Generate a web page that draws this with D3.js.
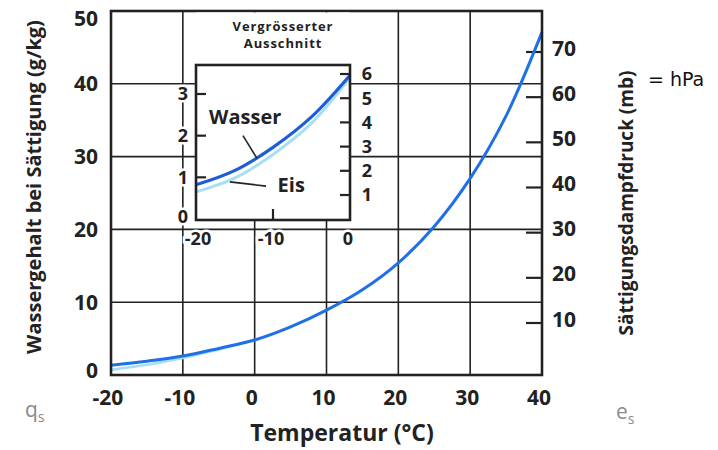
<!DOCTYPE html>
<html>
<head>
<meta charset="utf-8">
<script src="https://cdn.jsdelivr.net/npm/d3@7"></script>
<style>
  body { margin: 0; background: #fff; }
  svg text { font-family: "Open Sans", sans-serif; }
</style>
</head>
<body>
<svg id="chart" width="718" height="450"></svg>
<script>
// main curve: saturation water content (g/kg) vs temperature
const temps = [-20, -15, -10, -5, 0, 5, 10, 15, 20, 25, 30, 35, 40];
const qWasser = [1.35, 1.9, 2.6, 3.65, 4.8, 6.6, 8.9, 11.7, 15.4, 20.4, 27.0, 35.6, 47.1];
const tempsEis = [-20, -15, -10, -5, 0];
const qEisMain = [0.7, 1.4, 2.35, 3.5, 4.8];

// enlarged section
const insetTemps = [-20, -15, -10, -5, 0];
const insetWasser = [0.82, 1.16, 1.72, 2.45, 3.45];
const insetEis = [0.65, 0.98, 1.55, 2.3, 3.4];

const xTicks = [-20, -10, 0, 10, 20, 30, 40];
const qTicks = [0, 10, 20, 30, 40, 50];
const eTicks = [10, 20, 30, 40, 50, 60, 70];
const insetXTicks = [-20, -10, 0];
const insetQTicks = [0, 1, 2, 3];
const insetETicks = [1, 2, 3, 4, 5, 6];

const svg = d3.select("#chart");
const ink = "#222";

const x = d3.scaleLinear().domain([-20, 40]).range([111, 542]);
const yq = d3.scaleLinear().domain([0, 50]).range([375, 11]);
const ye = d3.scaleLinear().domain([10, 70]).range([323, 52]);

const xi = d3.scaleLinear().domain([-20, 0]).range([196, 350]);
const yqi = d3.scaleLinear().domain([0, 3]).range([219, 94]);
const yei = d3.scaleLinear().domain([1, 6]).range([195, 74]);

// grid
let grid = svg.append("g").attr("stroke", ink).attr("stroke-width", 1.6);
grid.selectAll(".vx").data(xTicks.slice(1, -1)).enter().append("line")
    .attr("x1", d => x(d)).attr("x2", d => x(d))
    .attr("y1", yq(50)).attr("y2", yq(0));
grid.selectAll(".hy").data(qTicks.slice(1, -1)).enter().append("line")
    .attr("x1", x(-20)).attr("x2", x(40))
    .attr("y1", d => yq(d)).attr("y2", d => yq(d));

// right axis ticks (inside)
svg.append("g").selectAll("line").data(eTicks).enter().append("line")
    .attr("x1", x(40) - 16).attr("x2", x(40))
    .attr("y1", d => ye(d)).attr("y2", d => ye(d))
    .attr("stroke", ink).attr("stroke-width", 2.2);

// main curves
let line = d3.line().x(d => x(d[0])).y(d => yq(d[1])).curve(d3.curveCatmullRom.alpha(0.5));
svg.append("path").datum(d3.zip(tempsEis, qEisMain)).attr("d", line)
    .attr("fill", "none").attr("stroke", "#a6def5").attr("stroke-width", 2.6);
svg.append("path").datum(d3.zip(temps, qWasser)).attr("d", line)
    .attr("fill", "none").attr("stroke", "#1f70e6").attr("stroke-width", 3);

// frame
svg.append("rect")
    .attr("x", x(-20)).attr("y", yq(50))
    .attr("width", x(40) - x(-20)).attr("height", yq(0) - yq(50))
    .attr("fill", "none").attr("stroke", ink).attr("stroke-width", 2.6);

// blank area for the inset
svg.append("rect")
    .attr("x", xi(-20)).attr("y", yq(50) + 1.5)
    .attr("width", xi(0) - xi(-20)).attr("height", yqi(0) + 1 - yq(50) - 1.5)
    .attr("fill", "#fff");

// left tick labels
svg.append("g").selectAll("text").data(qTicks).enter().append("text")
    .attr("x", 98)
    .attr("y", d => yq(d) + (d === 50 ? 7 : d === 0 ? -5 : 0))
    .attr("dy", "0.36em")
    .attr("text-anchor", "end")
    .attr("font-size", 21).attr("font-weight", 700).attr("fill", ink)
    .text(d => d);

// bottom tick labels
svg.append("g").selectAll("text").data(xTicks).enter().append("text")
    .attr("x", d => x(d) - 3)
    .attr("y", 397)
    .attr("dy", "0.36em")
    .attr("text-anchor", "middle")
    .attr("font-size", 21).attr("font-weight", 700).attr("fill", ink)
    .text(d => d);

// right tick labels
svg.append("g").selectAll("text").data(eTicks).enter().append("text")
    .attr("x", 552)
    .attr("y", d => ye(d) - 4)
    .attr("dy", "0.36em")
    .attr("font-size", 21).attr("font-weight", 700).attr("fill", ink)
    .text(d => d);

// axis titles
svg.append("text")
    .attr("transform", "translate(41,187) rotate(-90)")
    .attr("text-anchor", "middle")
    .attr("font-size", 20).attr("font-weight", 700).attr("fill", ink)
    .text("Wassergehalt bei Sättigung (g/kg)");
svg.append("text")
    .attr("transform", "translate(633,203) rotate(-90)")
    .attr("text-anchor", "middle")
    .attr("font-size", 19).attr("font-weight", 700).attr("fill", ink)
    .text("Sättigungsdampfdruck (mb)");
svg.append("text")
    .attr("x", 342).attr("y", 441)
    .attr("text-anchor", "middle")
    .attr("font-size", 23).attr("font-weight", 700).attr("fill", ink)
    .text("Temperatur (°C)");

svg.append("text")
    .attr("x", 648).attr("y", 86)
    .style("font-family", "DejaVu Sans")
    .attr("font-size", 19).attr("fill", "#111")
    .text("= hPa");

// q_s and e_s
let sym = svg.append("g").attr("fill", "#8a8a8a").style("font-family", "DejaVu Sans");
let qs = sym.append("text").attr("x", 25).attr("y", 417).attr("font-size", 21);
qs.append("tspan").text("q");
qs.append("tspan").attr("font-size", 14).attr("dy", 5).text("s");
let es = sym.append("text").attr("x", 616).attr("y", 419).attr("font-size", 21);
es.append("tspan").text("e");
es.append("tspan").attr("font-size", 14).attr("dy", 5).text("s");

// ---- inset ----
let inset = svg.append("g");

inset.append("text")
    .attr("x", 283).attr("y", 31)
    .attr("text-anchor", "middle")
    .attr("font-size", 13).attr("font-weight", 700).attr("letter-spacing", 0.9).attr("fill", ink)
    .text("Vergrösserter");
inset.append("text")
    .attr("x", 283).attr("y", 48)
    .attr("text-anchor", "middle")
    .attr("font-size", 13).attr("font-weight", 700).attr("letter-spacing", 0.9).attr("fill", ink)
    .text("Ausschnitt");

// inset ticks
inset.selectAll(".tq").data(insetQTicks.slice(1)).enter().append("line")
    .attr("x1", xi(-20)).attr("x2", xi(-20) + 10)
    .attr("y1", d => yqi(d)).attr("y2", d => yqi(d))
    .attr("stroke", ink).attr("stroke-width", 2.2);
inset.selectAll(".te").data(insetETicks).enter().append("line")
    .attr("x1", xi(0) - 10).attr("x2", xi(0))
    .attr("y1", d => yei(d)).attr("y2", d => yei(d))
    .attr("stroke", ink).attr("stroke-width", 2.2);
inset.append("line")
    .attr("x1", xi(-10)).attr("x2", xi(-10))
    .attr("y1", yqi(0)).attr("y2", yqi(0) - 10)
    .attr("stroke", ink).attr("stroke-width", 2.2);

let lineI = d3.line().x(d => xi(d[0])).y(d => yqi(d[1])).curve(d3.curveCatmullRom.alpha(0.5));
inset.append("path").datum(d3.zip(insetTemps, insetEis)).attr("d", lineI)
    .attr("fill", "none").attr("stroke", "#a6def5").attr("stroke-width", 3);
inset.append("path").datum(d3.zip(insetTemps, insetWasser)).attr("d", lineI)
    .attr("fill", "none").attr("stroke", "#1d5ed8").attr("stroke-width", 3.2);

inset.append("rect")
    .attr("x", xi(-20)).attr("y", 65)
    .attr("width", xi(0) - xi(-20)).attr("height", yqi(0) + 1 - 65)
    .attr("fill", "none").attr("stroke", ink).attr("stroke-width", 2.6);

// inset labels with white halo to break the grid
function haloText(sel) {
    return sel.attr("font-size", 18).attr("font-weight", 700).attr("fill", ink)
        .attr("stroke", "#fff").attr("stroke-width", 5).attr("paint-order", "stroke");
}
haloText(inset.selectAll(".lq").data(insetQTicks).enter().append("text"))
    .attr("x", 183).attr("y", d => yqi(d) - (d === 0 ? 2 : 0)).attr("dy", "0.36em")
    .attr("text-anchor", "middle").text(d => d);
haloText(inset.selectAll(".le").data(insetETicks).enter().append("text"))
    .attr("x", 367).attr("y", d => yei(d)).attr("dy", "0.36em")
    .attr("text-anchor", "middle").text(d => d);
haloText(inset.selectAll(".lx").data(insetXTicks).enter().append("text"))
    .attr("x", d => xi(d) - (d === -20 ? -2 : 2)).attr("y", 239).attr("dy", "0.36em")
    .attr("text-anchor", "middle").text(d => d);

// curve labels with pointers
inset.append("line")
    .attr("x1", xi(-13.9)).attr("y1", yqi(2.0))
    .attr("x2", xi(-12.1)).attr("y2", yqi(1.46))
    .attr("stroke", ink).attr("stroke-width", 1.6);
inset.append("line")
    .attr("x1", xi(-15.6)).attr("y1", yqi(0.89))
    .attr("x2", xi(-10.9)).attr("y2", yqi(0.79))
    .attr("stroke", ink).attr("stroke-width", 1.6);
inset.append("text")
    .attr("x", xi(-18.3)).attr("y", yqi(2.45)).attr("dy", "0.36em")
    .attr("font-size", 20).attr("font-weight", 700).attr("fill", ink)
    .text("Wasser");
inset.append("text")
    .attr("x", xi(-9.4)).attr("y", yqi(0.82)).attr("dy", "0.36em")
    .attr("font-size", 20).attr("font-weight", 700).attr("fill", ink)
    .text("Eis");
</script>
</body>
</html>
